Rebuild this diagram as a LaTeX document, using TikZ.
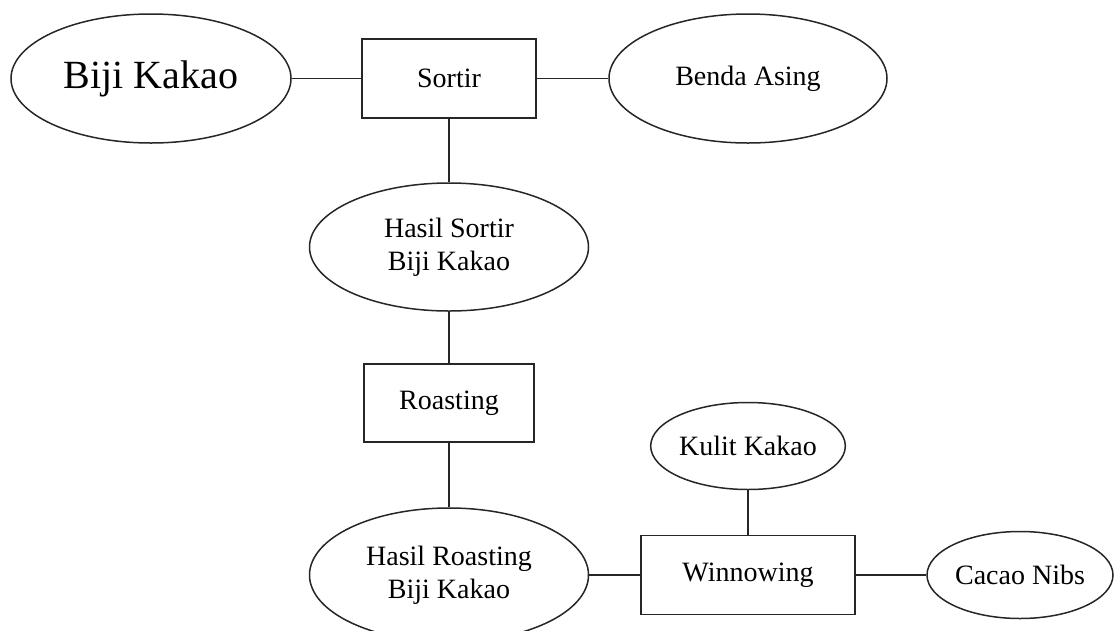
\documentclass[tikz,border=0pt]{standalone}
\usepackage{fontspec}
\setmainfont{Liberation Serif}
\usetikzlibrary{shapes.geometric}
\definecolor{lc}{HTML}{262626}
\begin{document}
\begin{tikzpicture}[x=1pt,y=-1pt,
  elps/.style={ellipse, draw=lc, line width=1.5pt, inner sep=0pt, text=black,
    font=\fontsize{28}{33}\selectfont, align=center},
  procbox/.style={rectangle, draw=lc, line width=1.5pt, inner sep=0pt, text=black,
    font=\fontsize{28}{33}\selectfont},
  link/.style={draw=lc, line width=1.5pt}]
\useasboundingbox (0,0) rectangle (1114,630);
\node[elps, minimum width=280pt, minimum height=129pt, font=\fontsize{40}{46}\selectfont] (bk) at (151,78.5) {Biji Kakao};
\node[procbox, minimum width=174pt, minimum height=79pt] (sortir) at (449,78.5) {Sortir};
\node[elps, minimum width=278pt, minimum height=129pt] (benda) at (748,78.5) {Benda Asing};
\node[elps, minimum width=279pt, minimum height=128pt] (hs) at (449,247) {Hasil Sortir\\Biji Kakao};
\node[procbox, minimum width=170pt, minimum height=78pt] (roast) at (449,403) {Roasting};
\node[elps, minimum width=188pt, minimum height=87pt] (kulit) at (748,446) {Kulit Kakao};
\node[procbox, minimum width=214pt, minimum height=79pt] (winn) at (748,575) {Winnowing};
\node[elps, minimum width=279pt, minimum height=134pt] (hr) at (449,575) {Hasil Roasting\\Biji Kakao};
\node[elps, minimum width=186pt, minimum height=87pt] (nibs) at (1020,575) {Cacao Nibs};
\draw[link] (bk.east) -- (sortir.west);
\draw[link] (sortir.east) -- (benda.west);
\draw[link] (sortir.south) -- (hs.north);
\draw[link] (hs.south) -- (roast.north);
\draw[link] (roast.south) -- (hr.north);
\draw[link] (hr.east) -- (winn.west);
\draw[link] (winn.north) -- (kulit.south);
\draw[link] (winn.east) -- (nibs.west);
\end{tikzpicture}
\end{document}
